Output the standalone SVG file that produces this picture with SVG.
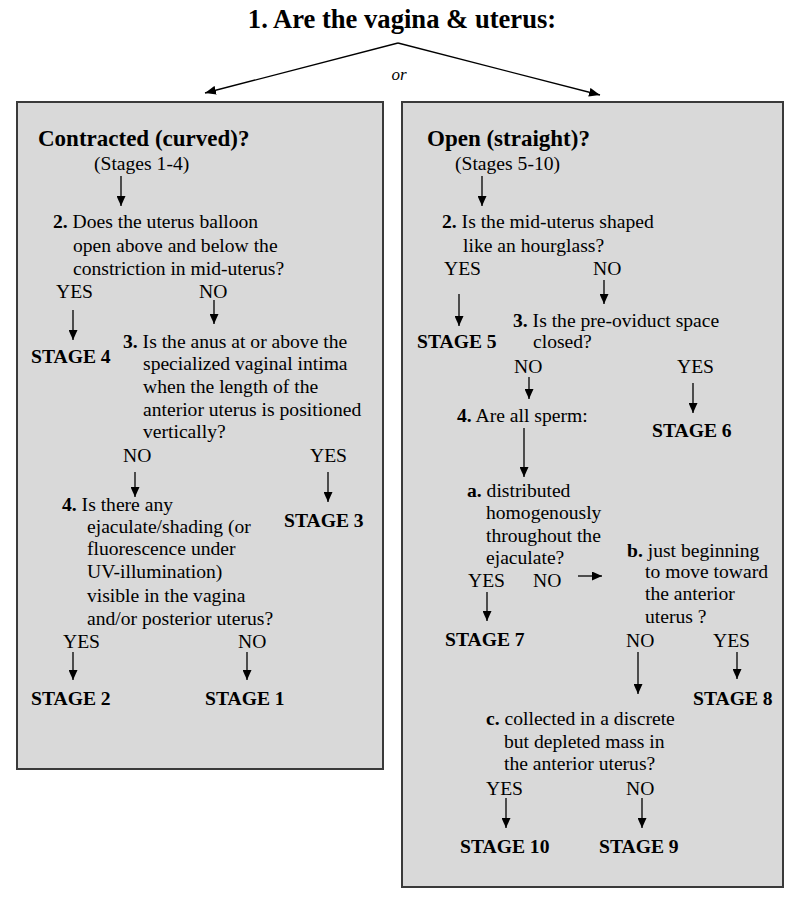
<svg xmlns="http://www.w3.org/2000/svg" width="800" height="904" viewBox="0 0 800 904" font-family="Liberation Serif, DejaVu Serif, serif">
<defs>
<marker id="ah" viewBox="0 0 10 9" refX="10" refY="4.5" markerWidth="10" markerHeight="9" markerUnits="userSpaceOnUse" orient="auto">
<path d="M0,0 L10,4.5 L0,9 z" fill="#000"/>
</marker>
<marker id="ah2" viewBox="0 0 11 9" refX="11" refY="4.5" markerWidth="11" markerHeight="9" markerUnits="userSpaceOnUse" orient="auto">
<path d="M0,0 L11,4.5 L0,9 z" fill="#000"/>
</marker>
</defs>
<style>
text{fill:#000}
.t{font-size:19.6px}
.b{font-weight:bold}
.h{font-size:23px;font-weight:bold}
.s{font-size:19.6px;font-weight:bold}
.title{font-size:26.6px;font-weight:bold}
.box{fill:#d9d9d9;stroke:#3a3a3a;stroke-width:2}
.c line{stroke:#000;stroke-width:1.3;marker-end:url(#ah)}
.c .d{stroke-width:1.3;marker-end:url(#ah2)}
</style>
<rect width="800" height="904" fill="#fff"/>

<g id="title">
<text class="title" x="402" y="28" text-anchor="middle">1. Are the vagina &amp; uterus:</text>
<text x="399" y="80" text-anchor="middle" style="font-size:17px;font-style:italic">or</text>
</g>

<g id="box-contracted">
<rect class="box" x="17" y="102" width="366" height="667"/>
<text class="h" x="38" y="146">Contracted (curved)?</text>
<text class="t" x="94" y="170">(Stages 1-4)</text>
</g>
<g id="box-open">
<rect class="box" x="402" y="102" width="381" height="785"/>
<text class="h" x="427" y="146">Open (straight)?</text>
<text class="t" x="455" y="170">(Stages 5-10)</text>
</g>

<g id="L-q2">
<text class="t" x="53" y="228"><tspan class="b">2.</tspan> Does the uterus balloon</text>
<text class="t" x="73" y="252">open above and below the</text>
<text class="t" x="73" y="275">constriction in mid-uterus?</text>
<text class="t" x="56" y="298">YES</text>
<text class="t" x="199" y="298">NO</text>
</g>
<g id="L-stage4"><text class="s" x="31" y="363">STAGE 4</text></g>
<g id="L-q3">
<text class="t" x="123" y="348"><tspan class="b">3.</tspan> Is the anus at or above the</text>
<text class="t" x="143" y="370">specialized vaginal intima</text>
<text class="t" x="143" y="393">when the length of the</text>
<text class="t" x="143" y="416">anterior uterus is positioned</text>
<text class="t" x="143" y="438">vertically?</text>
<text class="t" x="123" y="462">NO</text>
<text class="t" x="310" y="462">YES</text>
</g>
<g id="L-stage3"><text class="s" x="284" y="527">STAGE 3</text></g>
<g id="L-q4">
<text class="t" x="62" y="511"><tspan class="b">4.</tspan> Is there any</text>
<text class="t" x="87" y="533">ejaculate/shading (or</text>
<text class="t" x="87" y="555">fluorescence under</text>
<text class="t" x="87" y="578">UV-illumination)</text>
<text class="t" x="87" y="602">visible in the vagina</text>
<text class="t" x="87" y="625">and/or posterior uterus?</text>
<text class="t" x="63" y="648">YES</text>
<text class="t" x="238" y="648">NO</text>
</g>
<g id="L-stage2"><text class="s" x="31" y="705">STAGE 2</text></g>
<g id="L-stage1"><text class="s" x="205" y="705">STAGE 1</text></g>

<g id="R-q2">
<text class="t" x="442" y="228"><tspan class="b">2.</tspan> Is the mid-uterus shaped</text>
<text class="t" x="463" y="252">like an hourglass?</text>
<text class="t" x="444" y="275">YES</text>
<text class="t" x="593" y="275">NO</text>
</g>
<g id="R-stage5"><text class="s" x="417" y="348">STAGE 5</text></g>
<g id="R-q3">
<text class="t" x="513" y="327"><tspan class="b">3.</tspan> Is the pre-oviduct space</text>
<text class="t" x="533" y="348">closed?</text>
<text class="t" x="514" y="373">NO</text>
<text class="t" x="677" y="373">YES</text>
</g>
<g id="R-stage6"><text class="s" x="652" y="437">STAGE 6</text></g>
<g id="R-q4"><text class="t" x="457" y="422"><tspan class="b">4.</tspan> Are all sperm:</text></g>
<g id="R-qa">
<text class="t" x="467" y="497"><tspan class="b">a.</tspan> distributed</text>
<text class="t" x="486" y="519">homogenously</text>
<text class="t" x="486" y="542">throughout the</text>
<text class="t" x="486" y="564">ejaculate?</text>
<text class="t" x="468" y="587">YES</text>
<text class="t" x="533" y="587">NO</text>
</g>
<g id="R-stage7"><text class="s" x="445" y="646">STAGE 7</text></g>
<g id="R-qb">
<text class="t" x="627" y="557"><tspan class="b">b.</tspan> just beginning</text>
<text class="t" x="645" y="578">to move toward</text>
<text class="t" x="645" y="600">the anterior</text>
<text class="t" x="645" y="623">uterus ?</text>
<text class="t" x="626" y="647">NO</text>
<text class="t" x="713" y="647">YES</text>
</g>
<g id="R-stage8"><text class="s" x="693" y="705">STAGE 8</text></g>
<g id="R-qc">
<text class="t" x="486" y="725"><tspan class="b">c.</tspan> collected in a discrete</text>
<text class="t" x="504" y="748">but depleted mass in</text>
<text class="t" x="504" y="770">the anterior uterus?</text>
<text class="t" x="486" y="795">YES</text>
<text class="t" x="626" y="795">NO</text>
</g>
<g id="R-stage10"><text class="s" x="460" y="853">STAGE 10</text></g>
<g id="R-stage9"><text class="s" x="599" y="853">STAGE 9</text></g>

<g id="connectors" class="c">
<line class="d" x1="398" y1="43" x2="205" y2="93"/>
<line class="d" x1="398" y1="43" x2="600" y2="95"/>
<line x1="121" y1="176" x2="121" y2="206"/>
<line x1="214" y1="300" x2="214" y2="324"/>
<line x1="73" y1="310" x2="73" y2="340"/>
<line x1="135" y1="472" x2="135" y2="497"/>
<line x1="328" y1="472" x2="328" y2="502"/>
<line x1="73" y1="652" x2="73" y2="680"/>
<line x1="247" y1="652" x2="247" y2="680"/>
<line x1="482" y1="176" x2="482" y2="206"/>
<line x1="604" y1="280" x2="604" y2="304"/>
<line x1="459" y1="294" x2="459" y2="326"/>
<line x1="529" y1="377" x2="529" y2="399"/>
<line x1="693" y1="383" x2="693" y2="413"/>
<line x1="524" y1="428" x2="524" y2="477"/>
<line x1="578" y1="576" x2="602" y2="576"/>
<line x1="487" y1="592" x2="487" y2="621"/>
<line x1="638" y1="652" x2="638" y2="694"/>
<line x1="737" y1="652" x2="737" y2="679"/>
<line x1="506" y1="798" x2="506" y2="828"/>
<line x1="642" y1="798" x2="642" y2="828"/>
</g>
</svg>
